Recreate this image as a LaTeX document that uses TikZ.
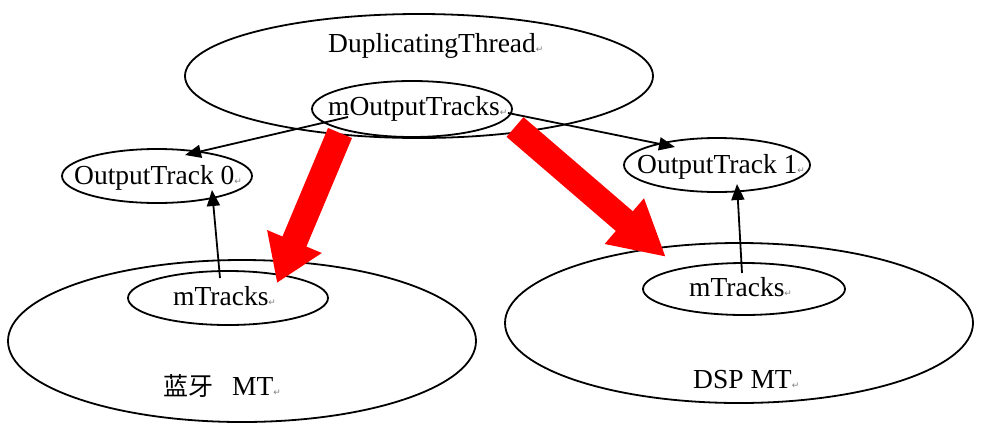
\documentclass[tikz,border=0pt]{standalone}
\usepackage{fontspec}
\setmainfont{Liberation Serif}
\newfontfamily\cjkfont{Noto Sans CJK SC}
\newfontfamily\symfont{DejaVu Sans}
\usetikzlibrary{shapes.geometric,arrows.meta,calc}
\newcommand\pmark{{\symfont\fontsize{9}{9}\selectfont\textcolor{gray}{↵}}}
\begin{document}
\begin{tikzpicture}[x=1pt,y=-1pt,
 ell/.style={draw, ellipse, line width=1.8pt, inner sep=0pt},
 lbl/.style={anchor=base west, inner sep=0pt, font=\fontsize{27.5}{30}\selectfont},
 link/.style={line width=1.8pt, -{Triangle[length=16pt,width=13pt]}},
 bigarrow/.style={draw=red, line width=26pt}]
\useasboundingbox[fill=white] (0,0) rectangle (984,437);
% ellipses
\node[ell, minimum width=468pt, minimum height=124pt] (dt) at (419,76) {};
\node[ell, minimum width=200pt, minimum height=56pt] (mot) at (412,109) {};
\node[ell, minimum width=190pt, minimum height=54pt] (ot0) at (157,176) {};
\node[ell, minimum width=186pt, minimum height=54pt] (ot1) at (717,165) {};
\node[ell, minimum width=468pt, minimum height=162pt] (btmt) at (242,341) {};
\node[ell, minimum width=200pt, minimum height=54pt] (mtL) at (228,298) {};
\node[ell, minimum width=468pt, minimum height=160pt] (dspmt) at (739,323) {};
\node[ell, minimum width=202pt, minimum height=52pt] (mtR) at (744,289) {};
% labels
\node[lbl] (tdt) at (328,52) {DuplicatingThread\pmark};
\node[lbl] (tmot) at (328,115) {mOutputTracks\pmark};
\node[lbl] (tot0) at (74,184) {OutputTrack 0\pmark};
\node[lbl] (tot1) at (637,173) {OutputTrack 1\pmark};
\node[lbl] (tmtL) at (173,305) {mTracks\pmark};
\node[lbl] (tmtR) at (689,296) {mTracks\pmark};
\node[lbl] (tbt) at (163,395) {{\cjkfont\fontsize{25}{30}\selectfont 蓝牙}\hspace{19pt}MT\pmark};
\node[lbl] (tdsp) at (693,388) {DSP MT\pmark};
% thin connectors
\draw[link] ($(mot.center)+(-64,8)$) -- ($(ot0.center)+(28,-21)$);
\draw[link] ($(mot.center)+(96,4)$) -- ($(ot1.center)+(-42,-18)$);
\draw[link] ($(mtL.center)+(-8,-20)$) -- ($(ot0.center)+(55,14)$);
\draw[link] ($(mtR.center)+(-2,-16)$) -- ($(ot1.center)+(20,19)$);
% big red arrows
\draw[bigarrow, -{Triangle[length=45pt,width=56pt]}] ($(mot.center)+(-72,24)$) -- ($(mtL.center)+(49,-15)$);
\draw[bigarrow, -{Triangle[length=55pt,width=56pt]}] ($(mot.center)+(103,18)$) -- ($(mtR.center)+(-78,-32)$);
\end{tikzpicture}
\end{document}
